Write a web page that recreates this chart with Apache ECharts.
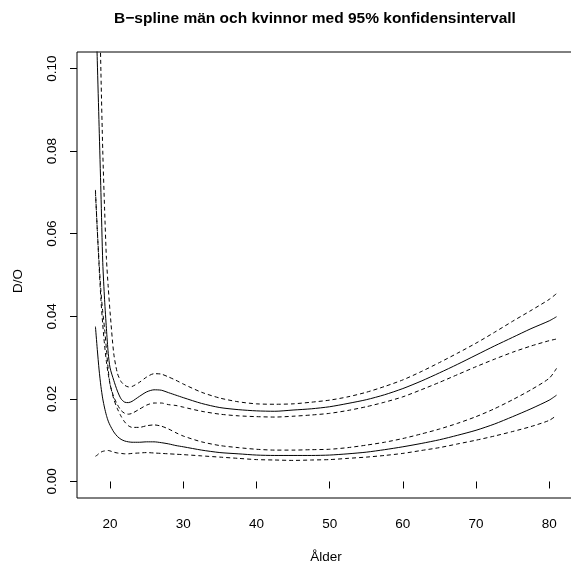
<!DOCTYPE html>
<html><head><meta charset="utf-8">
<script src="https://cdn.jsdelivr.net/npm/echarts@6/dist/echarts.min.js"></script>
<style>html,body{margin:0;padding:0;background:#fff}#c{width:571px;height:565px}</style>
</head><body><div id="c"></div>
<script>
const titleText = "B\u2212spline män och kvinnor med 95% konfidensintervall";
const xName = "Ålder";
const yName = "D/O";
const xTicks = [20, 30, 40, 50, 60, 70, 80];
const yTicks = [0, 0.02, 0.04, 0.06, 0.08, 0.10];
const ages = [18, 18.25, 18.5, 18.75, 19, 19.25, 19.5, 19.75, 20, 20.5, 21, 21.5, 22, 22.5, 23, 24, 25, 26, 27, 28, 29, 30, 32.5, 35, 37.5, 40, 42.5, 45, 47.5, 50, 52.5, 55, 57.5, 60, 62.5, 65, 67.5, 70, 72.5, 75, 77.5, 80, 81];
const menFit   = [0.119,0.102,0.086,0.070,0.053,0.044,0.037,0.031,0.0275,0.0245,0.0219,0.0200,0.0192,0.0191,0.0194,0.0206,0.0217,0.0222,0.0221,0.0215,0.0209,0.0203,0.0189,0.0179,0.0174,0.0171,0.0170,0.0173,0.0176,0.0181,0.0189,0.0198,0.0210,0.0225,0.0243,0.0263,0.0284,0.0306,0.0328,0.0349,0.0370,0.0389,0.0399];
const menUpper = [0.175,0.150,0.122,0.099,0.080,0.066,0.054,0.047,0.041,0.031,0.0262,0.0242,0.0233,0.0229,0.0230,0.0240,0.0253,0.0261,0.0260,0.0253,0.0245,0.0236,0.0216,0.0202,0.0193,0.0188,0.0187,0.0188,0.0192,0.0197,0.0205,0.0216,0.0230,0.0246,0.0266,0.0288,0.0311,0.0335,0.0361,0.0388,0.0414,0.0441,0.0455];
const menLower = [0.0706,0.061,0.053,0.046,0.041,0.037,0.032,0.027,0.0235,0.0205,0.0186,0.0172,0.0165,0.0163,0.0165,0.0175,0.0185,0.0190,0.0190,0.0186,0.0184,0.0180,0.0170,0.0163,0.0159,0.0157,0.0156,0.0158,0.0161,0.0165,0.0172,0.0181,0.0192,0.0205,0.0222,0.0240,0.0259,0.0278,0.0296,0.0313,0.0328,0.0341,0.0345];
const womenFit   = [0.0375,0.032,0.027,0.023,0.0200,0.0178,0.0160,0.0146,0.0136,0.0120,0.0109,0.0102,0.0098,0.0096,0.0095,0.0095,0.0096,0.0096,0.0094,0.0091,0.0087,0.0084,0.0076,0.0070,0.0067,0.0064,0.0063,0.0063,0.0063,0.0064,0.0067,0.0071,0.0077,0.0084,0.0092,0.0101,0.0112,0.0124,0.0139,0.0157,0.0176,0.0197,0.0209];
const womenUpper = [0.070,0.061,0.052,0.044,0.038,0.033,0.029,0.026,0.0235,0.0200,0.0176,0.0158,0.0144,0.0135,0.0131,0.0131,0.0135,0.0137,0.0134,0.0127,0.0118,0.0110,0.0096,0.0087,0.0082,0.0078,0.0076,0.0076,0.0077,0.0078,0.0082,0.0088,0.0095,0.0104,0.0115,0.0127,0.0141,0.0157,0.0176,0.0198,0.0222,0.0250,0.0274];
const womenLower = [0.0061,0.0064,0.0068,0.0071,0.0073,0.0074,0.0075,0.0075,0.0074,0.0071,0.0069,0.0068,0.0067,0.0067,0.0068,0.0069,0.0070,0.0069,0.0068,0.0067,0.0066,0.0065,0.0062,0.0059,0.0056,0.0053,0.0052,0.0051,0.0052,0.0053,0.0056,0.0059,0.0063,0.0068,0.0075,0.0082,0.0091,0.0100,0.0110,0.0121,0.0133,0.0148,0.0160];

const FONT = "Liberation Sans, Arial, Helvetica, sans-serif";
function mk(vals, dashed) {
  return {
    type: 'line', data: ages.map((a, i) => [a, vals[i]]),
    showSymbol: false, smooth: 0.25, clip: true, silent: true,
    lineStyle: { color: '#000', width: 1, type: dashed ? [4, 3] : 'solid' }
  };
}
const chart = echarts.init(document.getElementById('c'), null, { renderer: 'canvas' });
chart.setOption({
  animation: false,
  backgroundColor: '#fff',
  grid: { left: 77, top: 52, width: 498, height: 446, show: true, borderColor: '#000', borderWidth: 1,
    backgroundColor: 'transparent', containLabel: false, outerBoundsMode: 'none' },
  xAxis: {
    type: 'value', min: 15.48, max: 83.52,
    name: xName, nameLocation: 'middle', nameGap: 52,
    nameTextStyle: { fontFamily: FONT, fontSize: 13.5, color: '#000' },
    axisLine: { show: false }, splitLine: { show: false },
    axisTick: { show: true, length: 7, lineStyle: { color: '#000' }, customValues: xTicks },
    axisLabel: { customValues: xTicks, margin: 19, fontFamily: FONT, fontSize: 13.5, color: '#000' }
  },
  yAxis: {
    type: 'value', min: -0.004, max: 0.104,
    axisLine: { show: false }, splitLine: { show: false },
    axisTick: { show: true, length: 7, lineStyle: { color: '#000' }, customValues: yTicks },
    axisLabel: { customValues: yTicks, rotate: 90, margin: 18, fontFamily: FONT, fontSize: 13.5, color: '#000',
      formatter: v => v.toFixed(2) }
  },
  graphic: [
    { type: 'text', x: 315, y: 19,
      style: { text: titleText, font: 'bold 15.5px ' + FONT, fill: '#000', textAlign: 'center', textVerticalAlign: 'middle' } },
    { type: 'text', rotation: Math.PI / 2, x: 18, y: 281,
      style: { text: yName, font: '13.5px ' + FONT, fill: '#000', textAlign: 'center', textVerticalAlign: 'middle' } }
  ],
  series: [mk(menFit, false), mk(menUpper, true), mk(menLower, true), mk(womenFit, false), mk(womenUpper, true), mk(womenLower, true)]
});
</script></body></html>
